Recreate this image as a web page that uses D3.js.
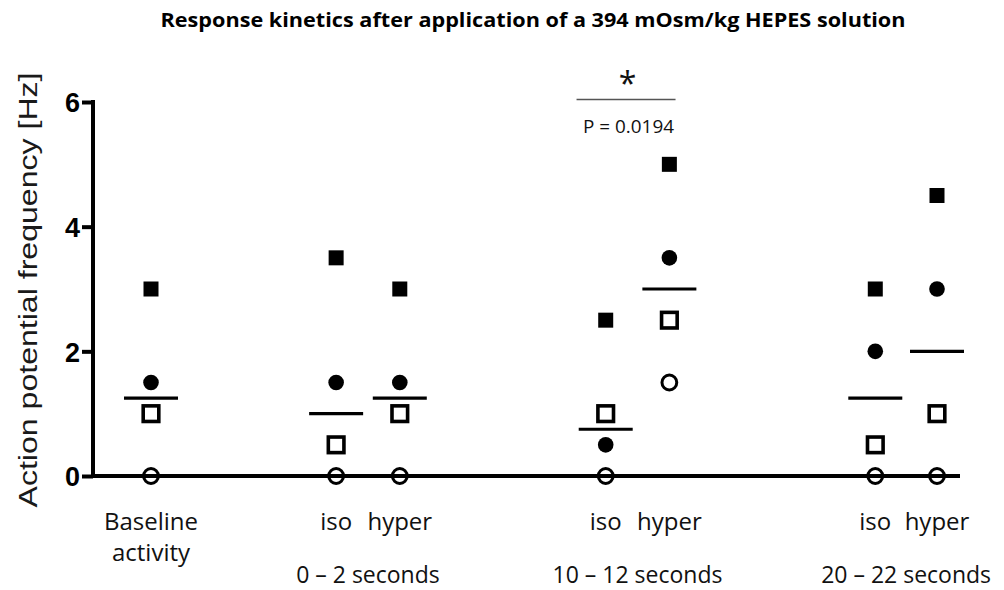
<!DOCTYPE html>
<html><head><meta charset="utf-8">
<script src="https://cdn.jsdelivr.net/npm/d3@7"></script>
<style>body{margin:0;background:#fff}svg{display:block}</style>
</head><body>
<svg id="c" width="1004" height="590"></svg>
<script>
// ---- data ----
const columns = ["Baseline", "iso 0-2", "hyper 0-2", "iso 10-12", "hyper 10-12", "iso 20-22", "hyper 20-22"];
const columnSlots = [0, 2.85, 3.83, 7.0, 7.98, 11.15, 12.1];
const filledSquare = [3, 3.5, 3, 2.5, 5, 3, 4.5];
const filledCircle = [1.5, 1.5, 1.5, 0.5, 3.5, 2, 3];
const openSquare   = [1, 0.5, 1, 1, 2.5, 0.5, 1];
const openCircle   = [0, 0, 0, 0, 1.5, 0, 0];
const yTicks = [0, 2, 4, 6];
const topLabels = ["Baseline", "iso", "hyper", "iso", "hyper", "iso", "hyper"];
const groupLabels = ["0 – 2 seconds", "10 – 12 seconds", "20 – 22 seconds"];
const groupCols = [[1, 2], [3, 4], [5, 6]];
const pValue = "P = 0.0194";
const title = "Response kinetics after application  of a 394 mOsm/kg HEPES solution";
const yLabel = "Action potential frequency [Hz]";

// ---- scales ----
const svg = d3.select("#c");
const y = d3.scaleLinear().domain([0, 6]).range([476, 102]);
const x = d3.scaleLinear().domain([0, 12.1]).range([151, 937]);

// title
svg.append("text").attr("x", 533).attr("y", 27).attr("text-anchor", "middle")
  .attr("font-family", "Open Sans, sans-serif").attr("font-weight", "bold").attr("font-size", 19)
  .attr("textLength", 745).attr("lengthAdjust", "spacingAndGlyphs").text(title);

// y label
svg.append("text").attr("transform", "translate(37,290) rotate(-90)").attr("text-anchor", "middle")
  .attr("font-family", "Liberation Sans, Arial, sans-serif").attr("font-size", 26).attr("fill", "#1a1a1a")
  .attr("textLength", 435).attr("lengthAdjust", "spacingAndGlyphs").text(yLabel);

// y axis
const yAxis = svg.append("g").attr("transform", "translate(93,0)")
  .call(d3.axisLeft(y).tickValues(yTicks).tickFormat(d3.format("d")).tickSize(11).tickPadding(2));
yAxis.select(".domain").attr("stroke", "#000").attr("stroke-width", 4).attr("d", `M0,${y(6) - 2}V${y(0)}`);
yAxis.selectAll(".tick line").attr("stroke", "#000").attr("stroke-width", 4);
yAxis.selectAll(".tick text").attr("font-family", "Liberation Sans, Arial, sans-serif")
  .attr("font-weight", "bold").attr("font-size", 27).attr("fill", "#000").attr("dy", "0.36em");

// x axis baseline line
svg.append("line").attr("x1", 91).attr("x2", 960).attr("y1", y(0)).attr("y2", y(0))
  .attr("stroke", "#000").attr("stroke-width", 4);

// medians
const meds = columns.map((c, i) => d3.median([filledSquare[i], filledCircle[i], openSquare[i], openCircle[i]]));
svg.append("g").selectAll("line").data(meds).join("line")
  .attr("x1", (d, i) => x(columnSlots[i]) - 27).attr("x2", (d, i) => x(columnSlots[i]) + 27)
  .attr("y1", d => y(d)).attr("y2", d => y(d)).attr("stroke", "#000").attr("stroke-width", 3.2);

// markers
const g = svg.append("g");
g.selectAll(".fs").data(filledSquare).join("rect").attr("class", "fs")
  .attr("x", (d, i) => x(columnSlots[i]) - 7.5).attr("y", d => y(d) - 7.5)
  .attr("width", 15).attr("height", 15).attr("fill", "#000");
g.selectAll(".fc").data(filledCircle).join("circle").attr("class", "fc")
  .attr("cx", (d, i) => x(columnSlots[i])).attr("cy", d => y(d)).attr("r", 7.8).attr("fill", "#000");
g.selectAll(".os").data(openSquare).join("rect").attr("class", "os")
  .attr("x", (d, i) => x(columnSlots[i]) - 7.8).attr("y", d => y(d) - 7.8)
  .attr("width", 15.6).attr("height", 15.6).attr("fill", "#fff").attr("stroke", "#000").attr("stroke-width", 3.6);
g.selectAll(".oc").data(openCircle).join("circle").attr("class", "oc")
  .attr("cx", (d, i) => x(columnSlots[i])).attr("cy", d => y(d)).attr("r", 7.4)
  .attr("fill", "none").attr("stroke", "#000").attr("stroke-width", 3);

// x labels
const lblFont = "Open Sans, sans-serif";
svg.append("g").selectAll("text").data(topLabels).join("text")
  .attr("x", (d, i) => x(columnSlots[i])).attr("y", 530).attr("text-anchor", "middle")
  .attr("font-family", lblFont).attr("font-size", 24).attr("fill", "#111").text(d => d);
svg.append("text").attr("x", x(columnSlots[0])).attr("y", 561).attr("text-anchor", "middle")
  .attr("font-family", lblFont).attr("font-size", 24).attr("fill", "#111").text("activity");
svg.append("g").selectAll("text").data(groupLabels).join("text")
  .attr("x", (d, i) => (x(columnSlots[groupCols[i][0]]) + x(columnSlots[groupCols[i][1]])) / 2)
  .attr("y", 583).attr("text-anchor", "middle")
  .attr("font-family", lblFont).attr("font-size", 23).attr("fill", "#111").text(d => d);

// significance
const gc = (x(columnSlots[3]) + x(columnSlots[4])) / 2;
svg.append("line").attr("x1", gc - 61).attr("x2", gc + 38).attr("y1", 99.5).attr("y2", 99.5)
  .attr("stroke", "#555").attr("stroke-width", 1.5);
svg.append("text").attr("x", gc - 10).attr("y", 95).attr("text-anchor", "middle")
  .attr("font-family", lblFont).attr("font-size", 32).attr("fill", "#111").text("*");
svg.append("text").attr("x", gc - 9).attr("y", 133).attr("text-anchor", "middle")
  .attr("font-family", lblFont).attr("font-size", 18).attr("fill", "#111")
  .attr("textLength", 91).attr("lengthAdjust", "spacingAndGlyphs").text(pValue);
</script>
</body></html>
